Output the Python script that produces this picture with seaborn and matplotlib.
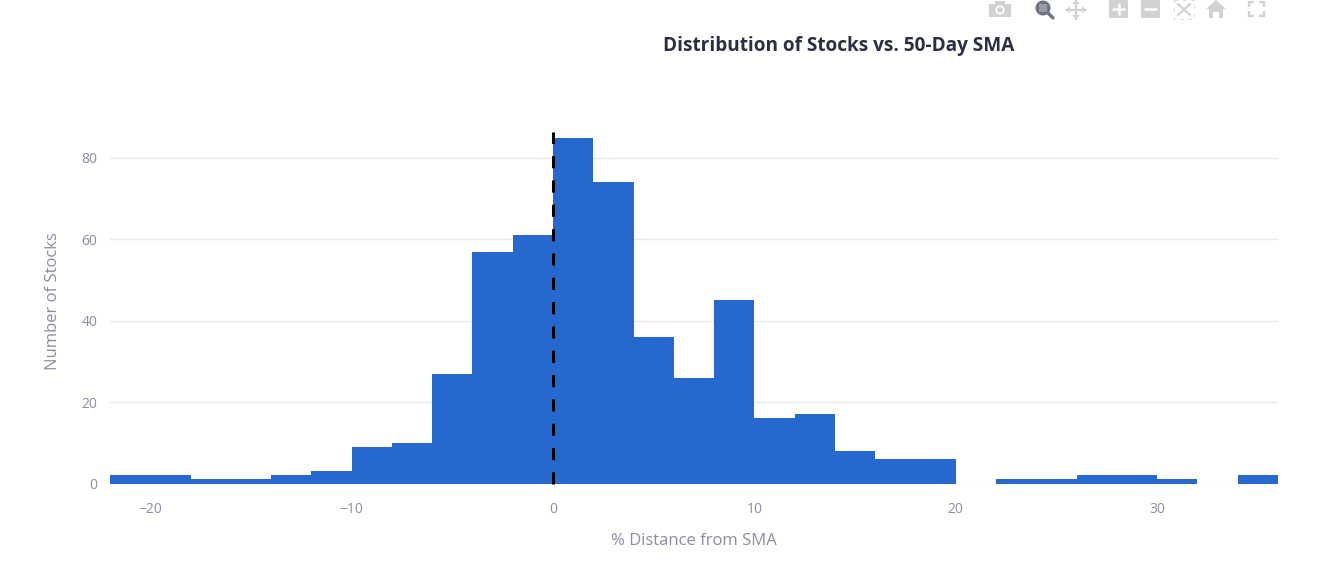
import numpy as np
import pandas as pd
import matplotlib
matplotlib.use("Agg")
import matplotlib.pyplot as plt
import seaborn as sns
from matplotlib.patches import Circle, Polygon, Rectangle

# histogram, bins are 2 wide
bin_edges = [-22, -20, -18, -16, -14, -12, -10, -8, -6, -4, -2, 0, 2, 4, 6, 8,
             10, 12, 14, 16, 18, 20, 22, 24, 26, 28, 30, 32, 34, 36]
counts = [2, 2, 1, 1, 2, 3, 9, 10, 27, 57, 61, 85, 74, 36, 26, 45,
          16, 17, 8, 6, 6, 0, 1, 1, 2, 2, 1, 0, 2]
x_ticks = [-20, -10, 0, 10, 20, 30]
y_ticks = [0, 20, 40, 60, 80]

BAR = "#2569cf"
GRID = "#e7e9f1"
TICK = "#8c8da3"
ICON = "#d2d2d2"

sns.set_theme(style="white")
plt.rcParams["font.family"] = ["Open Sans", "DejaVu Sans"]

df = pd.DataFrame({"left": bin_edges[:-1], "count": counts})

fig = plt.figure(figsize=(13.43, 5.62), dpi=100)
ax = fig.add_axes([110 / 1343, 1 - 483.5 / 562, 1168 / 1343, 365 / 562])

sns.histplot(data=df, x="left", weights="count", bins=bin_edges, color=BAR,
             alpha=1, linewidth=0, ax=ax, zorder=2)

ax.set_xlim(bin_edges[0], bin_edges[-1])
ax.set_ylim(0, 89.7)
ax.set_xticks(x_ticks)
ax.set_xticklabels([str(t).replace("-", "\u2212") for t in x_ticks])
ax.set_yticks(y_ticks)
ax.grid(axis="y", color=GRID, linewidth=1.0, zorder=0)
ax.set_axisbelow(True)
sns.despine(ax=ax, left=True, bottom=True)
ax.tick_params(axis="both", length=0, labelsize=10, labelcolor=TICK)
ax.tick_params(axis="x", pad=13)
ax.tick_params(axis="y", pad=9)
ax.set_xlabel("% Distance from SMA", fontsize=12, color=TICK, labelpad=12)
ax.set_ylabel("Number of Stocks", fontsize=12, color=TICK, labelpad=15)

# dashed line at zero
ax.plot([0, 0], [0, 86.4], color="black", linewidth=2.2, zorder=5,
        dashes=(3.98, 3.98), dash_capstyle="butt", clip_on=False)

fig.text(839 / 1343, 1 - 45.5 / 562, "Distribution of Stocks vs. 50-Day SMA",
         ha="center", va="center", fontsize=13.65, fontweight="bold", color="#2a2f45")

# toolbar icons top right, overlay in pixel coords
ov = fig.add_axes([0, 0, 1, 1], zorder=10)
ov.set_xlim(0, 1343)
ov.set_ylim(562, 0)
ov.axis("off")
ov.patch.set_alpha(0)

# camera
ov.add_patch(Rectangle((989, 4), 22, 13, color=ICON, lw=0))
ov.add_patch(Rectangle((995, 1), 10, 4, color=ICON, lw=0))
ov.add_patch(Circle((1000, 10), 4.5, color="white", lw=0))
ov.add_patch(Circle((1000, 10), 2.8, color=ICON, lw=0))
# zoom, the active one
ov.add_patch(Circle((1043, 8), 7.5, color="#6f7184", lw=0))
ov.add_patch(Rectangle((1039, 4), 8, 8, color="#9a9ba9", lw=0))
ov.plot([1048, 1053], [13, 18], color="#6f7184", lw=2.4, solid_capstyle="round")
# pan
ov.plot([1066, 1086], [9.5, 9.5], color=ICON, lw=1.6)
ov.plot([1076, 1076], [0, 19], color=ICON, lw=1.6)
for pts in ([(1066, 9.5), (1070, 6), (1070, 13)], [(1086, 9.5), (1082, 6), (1082, 13)],
            [(1076, 0), (1072, 4), (1080, 4)], [(1076, 19), (1072, 15), (1080, 15)]):
    ov.add_patch(Polygon(pts, color=ICON, lw=0))
# plus and minus
ov.add_patch(Rectangle((1109, 0), 19, 18, color=ICON, lw=0))
ov.plot([1113, 1124], [9, 9], color="white", lw=1.8)
ov.plot([1118.5, 1118.5], [4, 14], color="white", lw=1.8)
ov.add_patch(Rectangle((1141, 0), 19, 18, color=ICON, lw=0))
ov.plot([1145, 1156], [9, 9], color="white", lw=1.8)
# autoscale
ov.plot([1178, 1190], [4, 15], color=ICON, lw=1.6)
ov.plot([1190, 1178], [4, 15], color=ICON, lw=1.6)
ov.add_patch(Rectangle((1174, 0), 20, 19, fill=False, edgecolor=ICON, lw=0.6, ls=(0, (4, 6))))
# home
ov.add_patch(Polygon([(1206, 9), (1216, 0), (1226, 9), (1223, 9), (1223, 18), (1219, 18),
                      (1219, 12), (1213, 12), (1213, 18), (1209, 18), (1209, 9)],
                     color=ICON, lw=0))
# fullscreen corners
for cx, cy, dx, dy in [(1249, 2, 1, 1), (1264, 2, -1, 1), (1249, 16, 1, -1), (1264, 16, -1, -1)]:
    ov.plot([cx + 4 * dx, cx, cx], [cy, cy, cy + 4 * dy], color=ICON, lw=1.7,
            solid_joinstyle="miter")

fig.savefig("out.png", dpi=100)
